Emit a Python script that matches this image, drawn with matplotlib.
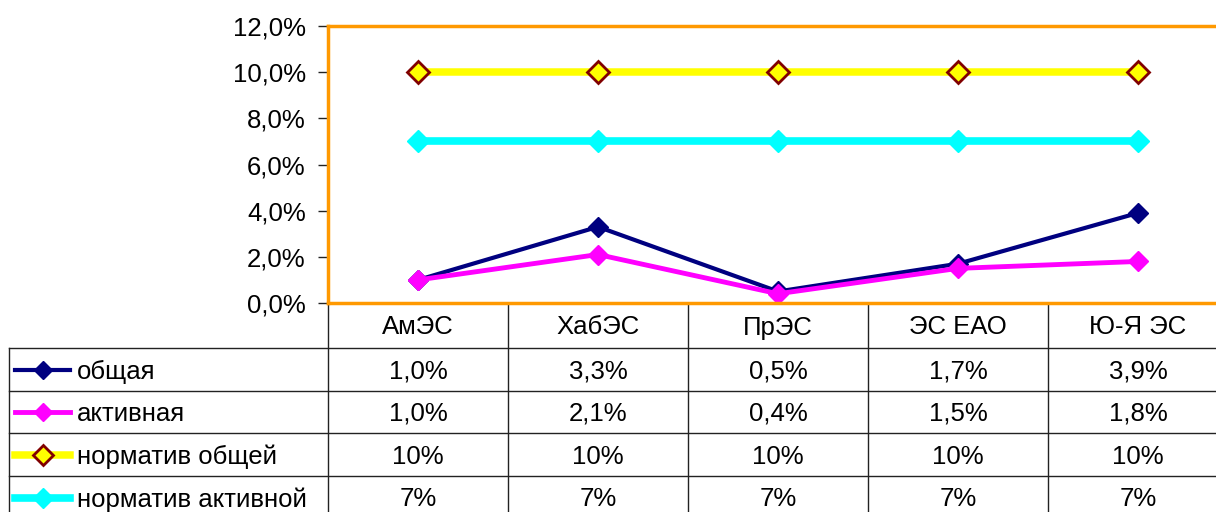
import matplotlib
matplotlib.use("Agg")
import matplotlib.pyplot as plt
from matplotlib.ticker import FuncFormatter

plt.rcParams['font.family'] = ['Liberation Sans', 'DejaVu Sans']

categories = ['АмЭС', 'ХабЭС', 'ПрЭС', 'ЭС ЕАО', 'Ю-Я ЭС']
obshchaya = [1.0, 3.3, 0.5, 1.7, 3.9]
aktivnaya = [1.0, 2.1, 0.4, 1.5, 1.8]
norm_obshchey = [10, 10, 10, 10, 10]
norm_aktivnoy = [7, 7, 7, 7, 7]
series_names = ['общая', 'активная', 'норматив общей', 'норматив активной']

styles = [
    dict(color='#000080', lw=3.0, marker='D', ms=10.5, mfc='#000080', mec='#000080', mew=1),
    dict(color='#FF00FF', lw=3.5, marker='D', ms=10.5, mfc='#FF00FF', mec='#FF00FF', mew=1),
    dict(color='#FFFF00', lw=5.4, marker='D', ms=11.5, mfc='#FFFF00', mec='#800000', mew=2),
    dict(color='#00FFFF', lw=5.5, marker='D', ms=11.5, mfc='#00FFFF', mec='#00FFFF', mew=1),
]
series = [obshchaya, aktivnaya, norm_obshchey, norm_aktivnoy]
cell_text = [
    ['%.1f%%' % v for v in obshchaya],
    ['%.1f%%' % v for v in aktivnaya],
    ['%d%%' % v for v in norm_obshchey],
    ['%d%%' % v for v in norm_aktivnoy],
]
cell_text = [[t.replace('.', ',') for t in row] for row in cell_text]

W, H = 1216, 512
fig = plt.figure(figsize=(W / 100, H / 100), dpi=100)

# table layer in pixel coordinates
tab = fig.add_axes([0, 0, 1, 1], zorder=0)
tab.set_xlim(0, W)
tab.set_ylim(H, 0)
tab.axis('off')

x0, cw = 328, 180
row_y = [303, 348, 391, 433, 476, 519]
lc = '#222222'
for i in range(len(categories) + 1):
    tab.plot([x0 + i * cw] * 2, [row_y[0], H], color=lc, lw=1)
tab.plot([9, 9], [row_y[1], H], color=lc, lw=1)
for y in row_y[1:]:
    tab.plot([9, W], [y, y], color=lc, lw=1)

fs = 18.5
for j, c in enumerate(categories):
    tab.text(x0 + cw * (j + 0.5), (row_y[0] + row_y[1]) / 2 + 2, c,
             ha='center', va='center', fontsize=fs)
for i, name in enumerate(series_names):
    yc = (row_y[i + 1] + row_y[i + 2]) / 2
    st = dict(styles[i])
    st['ms'] = st['ms'] * 0.85
    tab.plot([15, 70], [yc, yc], color=st['color'], lw=st['lw'])
    tab.plot([42.5], [yc], linestyle='none',
             **{k: v for k, v in st.items() if k not in ('lw', 'color')})
    tab.text(77, yc + 2, name, ha='left', va='center', fontsize=fs)
    for j, t in enumerate(cell_text[i]):
        tab.text(x0 + cw * (j + 0.5), yc + 2, t, ha='center', va='center', fontsize=fs)

# chart
ax = fig.add_axes([x0 / W, (H - 303) / H, len(categories) * cw / W, 277 / H], zorder=1)
ax.patch.set_alpha(0)
x = list(range(len(categories)))
for vals, st in zip(series, styles):
    ax.plot(x, vals, **st)
ax.set_xlim(-0.5, len(categories) - 0.5)
ax.set_ylim(0, 12)
ax.set_yticks([0, 2, 4, 6, 8, 10, 12])
ax.yaxis.set_major_formatter(FuncFormatter(lambda v, p: ('%.1f%%' % v).replace('.', ',')))
ax.set_xticks([])
ax.tick_params(axis='y', labelsize=fs, length=7, width=1, pad=9, color='#222222')
for s in ax.spines.values():
    s.set_color('#FF9900')
    s.set_linewidth(2.5)
ax.spines['right'].set_visible(False)

fig.savefig('out.png', dpi=100)
